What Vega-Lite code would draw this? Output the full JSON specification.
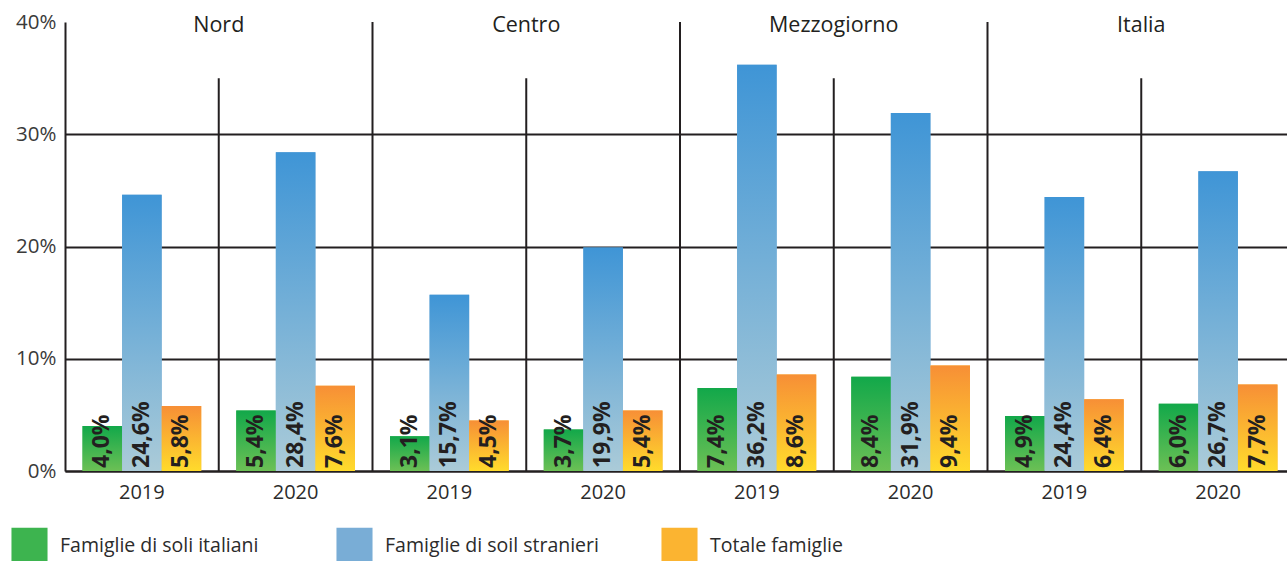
{
  "$schema": "https://vega.github.io/schema/vega-lite/v6.json",
  "width": 1230,
  "height": 449,
  "autosize": {"type": "none"},
  "padding": {"left": 65, "top": 22, "right": 0, "bottom": 90},
  "config": {
    "font": "Open Sans",
    "view": {"stroke": null},
    "locale": {"number": {"decimal": ",", "thousands": ".", "grouping": [3], "currency": ["", " €"]}}
  },
  "datasets": {
    "barre": [
      {"key": "Nord|2019", "serie": "Famiglie di soli italiani", "valore": 0.040},
      {"key": "Nord|2019", "serie": "Famiglie di soil stranieri", "valore": 0.246},
      {"key": "Nord|2019", "serie": "Totale famiglie", "valore": 0.058},
      {"key": "Nord|2020", "serie": "Famiglie di soli italiani", "valore": 0.054},
      {"key": "Nord|2020", "serie": "Famiglie di soil stranieri", "valore": 0.284},
      {"key": "Nord|2020", "serie": "Totale famiglie", "valore": 0.076},
      {"key": "Centro|2019", "serie": "Famiglie di soli italiani", "valore": 0.031},
      {"key": "Centro|2019", "serie": "Famiglie di soil stranieri", "valore": 0.157},
      {"key": "Centro|2019", "serie": "Totale famiglie", "valore": 0.045},
      {"key": "Centro|2020", "serie": "Famiglie di soli italiani", "valore": 0.037},
      {"key": "Centro|2020", "serie": "Famiglie di soil stranieri", "valore": 0.199},
      {"key": "Centro|2020", "serie": "Totale famiglie", "valore": 0.054},
      {"key": "Mezzogiorno|2019", "serie": "Famiglie di soli italiani", "valore": 0.074},
      {"key": "Mezzogiorno|2019", "serie": "Famiglie di soil stranieri", "valore": 0.362},
      {"key": "Mezzogiorno|2019", "serie": "Totale famiglie", "valore": 0.086},
      {"key": "Mezzogiorno|2020", "serie": "Famiglie di soli italiani", "valore": 0.084},
      {"key": "Mezzogiorno|2020", "serie": "Famiglie di soil stranieri", "valore": 0.319},
      {"key": "Mezzogiorno|2020", "serie": "Totale famiglie", "valore": 0.094},
      {"key": "Italia|2019", "serie": "Famiglie di soli italiani", "valore": 0.049},
      {"key": "Italia|2019", "serie": "Famiglie di soil stranieri", "valore": 0.244},
      {"key": "Italia|2019", "serie": "Totale famiglie", "valore": 0.064},
      {"key": "Italia|2020", "serie": "Famiglie di soli italiani", "valore": 0.060},
      {"key": "Italia|2020", "serie": "Famiglie di soil stranieri", "valore": 0.267},
      {"key": "Italia|2020", "serie": "Totale famiglie", "valore": 0.077}
    ],
    "anni": [
      {"key": "Nord|2020"},
      {"key": "Centro|2020"},
      {"key": "Mezzogiorno|2020"},
      {"key": "Italia|2020"}
    ],
    "aree": [
      {"key": "Centro|2019"},
      {"key": "Mezzogiorno|2019"},
      {"key": "Italia|2019"}
    ],
    "titoli": [
      {"key": "Nord|2020", "area": "Nord"},
      {"key": "Centro|2020", "area": "Centro"},
      {"key": "Mezzogiorno|2020", "area": "Mezzogiorno"},
      {"key": "Italia|2020", "area": "Italia"}
    ]
  },
  "encoding": {
    "x": {
      "field": "key",
      "type": "nominal",
      "scale": {
        "domain": ["Nord|2019", "Nord|2020", "Centro|2019", "Centro|2020", "Mezzogiorno|2019", "Mezzogiorno|2020", "Italia|2019", "Italia|2020"],
        "paddingInner": 0,
        "paddingOuter": 0
      },
      "axis": {
        "title": null,
        "labelAngle": 0,
        "labelExpr": "split(datum.value, '|')[1]",
        "labelFontSize": 20,
        "labelColor": "#2b2b2b",
        "labelPadding": 11,
        "ticks": false,
        "domainColor": "#231f20",
        "domainWidth": 2,
        "grid": false
      }
    }
  },
  "layer": [
    {
      "data": {"name": "barre"},
      "mark": {"type": "bar"},
      "encoding": {
        "xOffset": {
          "field": "serie",
          "type": "nominal",
          "scale": {
            "domain": ["Famiglie di soli italiani", "Famiglie di soil stranieri", "Totale famiglie"],
            "paddingInner": 0,
            "paddingOuter": 0.443
          }
        },
        "y": {
          "field": "valore",
          "type": "quantitative",
          "scale": {"domain": [0, 0.4], "nice": false},
          "axis": {
            "title": null,
            "values": [0, 0.1, 0.2, 0.3, 0.4],
            "format": ".0%",
            "labelFontSize": 20.5,
            "labelColor": "#3a3a3a",
            "labelPadding": 9,
            "ticks": false,
            "domainColor": "#231f20",
            "domainWidth": 2,
            "grid": true,
            "gridColor": "#231f20",
            "gridWidth": 2,
            "gridOpacity": {"condition": {"test": "datum.value >= 0.39", "value": 0}, "value": 1}
          }
        },
        "color": {
          "field": "serie",
          "type": "nominal",
          "scale": {
            "domain": ["Famiglie di soli italiani", "Famiglie di soil stranieri", "Totale famiglie"],
            "range": ["#3db44f", "#79add6", "#fbb431"]
          },
          "legend": {
            "title": null,
            "orient": "none",
            "direction": "horizontal",
            "legendX": -54,
            "legendY": 505,
            "symbolType": "square",
            "symbolSize": 1300,
            "symbolStrokeWidth": 0,
            "labelFontSize": 19.5,
            "labelColor": "#2b2b2b",
            "labelOffset": 12,
            "labelLimit": 400,
            "columnPadding": 62,
            "gridAlign": "all",
            "encode": {
              "symbols": {
                "update": {
                  "fill": {
                    "condition": [
                      {"test": "datum.value === 'Totale famiglie'", "value": {"gradient": "linear", "x1": 0, "y1": 0, "x2": 0, "y2": 1, "stops": [{"offset": 0, "color": "#f78f36"}, {"offset": 1, "color": "#ffdb2c"}]}},
                      {"test": "datum.value === 'Famiglie di soil stranieri'", "value": {"gradient": "linear", "x1": 0, "y1": 0, "x2": 0, "y2": 1, "stops": [{"offset": 0, "color": "#3f95d6"}, {"offset": 1, "color": "#abcbd8"}]}}
                    ],
                    "value": {"gradient": "linear", "x1": 0, "y1": 0, "x2": 0, "y2": 1, "stops": [{"offset": 0, "color": "#12a84a"}, {"offset": 1, "color": "#6cc055"}]}
                  }
                }
              }
            }
          }
        }
      }
    },
    {
      "data": {"name": "barre"},
      "mark": {"type": "bar"},
      "encoding": {
        "xOffset": {"field": "serie", "type": "nominal"},
        "y": {"field": "valore", "type": "quantitative"},
        "fill": {
          "condition": [
            {"test": "datum.serie === 'Totale famiglie'", "value": {"gradient": "linear", "x1": 0, "y1": 0, "x2": 0, "y2": 1, "stops": [{"offset": 0, "color": "#f78f36"}, {"offset": 1, "color": "#ffdb2c"}]}},
            {"test": "datum.serie === 'Famiglie di soil stranieri'", "value": {"gradient": "linear", "x1": 0, "y1": 0, "x2": 0, "y2": 1, "stops": [{"offset": 0, "color": "#3f95d6"}, {"offset": 1, "color": "#abcbd8"}]}}
          ],
          "value": {"gradient": "linear", "x1": 0, "y1": 0, "x2": 0, "y2": 1, "stops": [{"offset": 0, "color": "#12a84a"}, {"offset": 1, "color": "#6cc055"}]}
        }
      }
    },
    {
      "data": {"name": "barre"},
      "mark": {"type": "text", "angle": 270, "align": "left", "baseline": "middle", "dx": 3, "fontSize": 23, "fontWeight": "bold", "color": "#231f20"},
      "encoding": {
        "xOffset": {"field": "serie", "type": "nominal"},
        "y": {"datum": 0},
        "text": {"field": "valore", "type": "quantitative", "format": ".1%"}
      }
    },
    {
      "data": {"name": "anni"},
      "mark": {"type": "rule", "color": "#231f20", "strokeWidth": 2},
      "encoding": {
        "x": {"field": "key", "type": "nominal", "bandPosition": 0},
        "y": {"datum": 0},
        "y2": {"datum": 0.35}
      }
    },
    {
      "data": {"name": "aree"},
      "mark": {"type": "rule", "color": "#231f20", "strokeWidth": 2},
      "encoding": {
        "x": {"field": "key", "type": "nominal", "bandPosition": 0},
        "y": {"datum": 0},
        "y2": {"datum": 0.4}
      }
    },
    {
      "data": {"name": "titoli"},
      "mark": {"type": "text", "baseline": "middle", "align": "center", "dy": 4, "fontSize": 21.5, "color": "#231f20"},
      "encoding": {
        "x": {"field": "key", "type": "nominal", "bandPosition": 0},
        "y": {"datum": 0.4},
        "text": {"field": "area", "type": "nominal"}
      }
    }
  ]
}
